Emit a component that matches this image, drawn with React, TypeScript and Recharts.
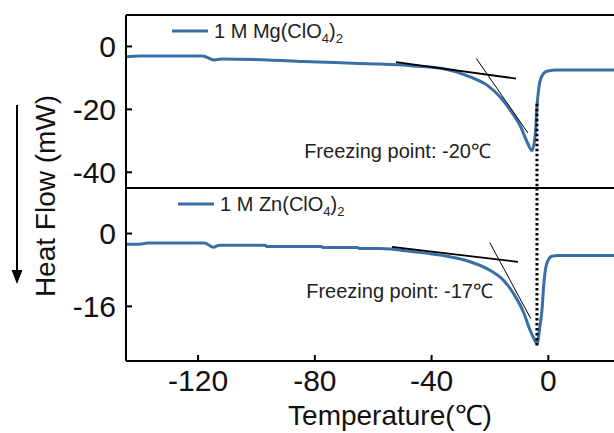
import React from "react";
import { LineChart, Line, XAxis, YAxis, ReferenceLine, ReferenceDot, Legend } from "recharts";

const FONT = '"Liberation Sans", Arial, sans-serif';
const BLUE = "#3b6ea5";
const INK = "#111";

// DSC cooling traces: temperature (°C) vs heat flow (mW)
const mgTemp = [-144.7, -140, -118.5, -114.5, -112, -96, -84, -73, -65, -57.6, -46.2, -34.7, -26.8, -21, -16.5, -13, -9.6, -7.3, -5.6, -4.5, -3.9, -3.3, -2.2, -0.5, 2.9, 22.5];
const mgFlow = [-3.3, -3.0, -3.0, -4.3, -4.0, -4.3, -4.8, -5.1, -5.4, -5.6, -6.2, -7.3, -9.7, -12.3, -16.1, -20.3, -25.3, -30.3, -33.1, -28.2, -19.2, -13.5, -9.4, -7.9, -7.5, -7.5];

const znTemp = [-144.7, -140, -137.2, -117.8, -114.7, -112.7, -97, -96.5, -77.8, -77.2, -65.3, -64.7, -57.6, -46.2, -34.7, -26.8, -19.9, -15.3, -11.9, -8.5, -6.2, -5, -3.9, -2.8, -2.2, -1.6, -0.5, 1.2, 3.5, 22.5];
const znFlow = [-2.33, -2.33, -2.1, -2.1, -3.0, -2.56, -2.6, -2.85, -2.85, -3.07, -3.07, -3.3, -3.3, -4.0, -5.0, -6.2, -8.1, -10.3, -13.2, -17.3, -21.3, -23.0, -24.2, -20.0, -17.0, -11.5, -6.5, -5.0, -4.8, -4.8];

const xTicks = [-120, -80, -40, 0];
const mgTicks = [0, -20, -40];
const znTicks = [0, -16];
const X_DOMAIN = [-144.7, 22.5];

// onset tangents [t1, v1, t2, v2]
const mgBaseTangent = [-52.2, -5.0, -11.1, -10.2];
const mgSlopeTangent = [-24.7, -3.8, -7.0, -27.5];
const znBaseTangent = [-53.6, -2.93, -10.4, -6.23];
const znSlopeTangent = [-20.1, -1.96, -6.0, -18.7];

const peakTemp = -3.9;
const mgMarkerTop = -18.2;
const znMarkerBottom = -25;

const mgData = mgTemp.map((t, i) => ({ t, v: mgFlow[i] }));
const znData = znTemp.map((t, i) => ({ t, v: znFlow[i] }));

const seg = (s: number[]) => [{ x: s[0], y: s[1] }, { x: s[2], y: s[3] }];

const axisLine = { stroke: "#000", strokeWidth: 2 };
const tickLine = { stroke: "#000", strokeWidth: 2 };
const tickStyle = { fill: INK, fontSize: 30, fontFamily: FONT };

function SaltLegend({ metal }: { metal: string }) {
  return (
    <div style={{ display: "flex", alignItems: "center", fontFamily: FONT, fontSize: 20, color: "#222", lineHeight: "20px", whiteSpace: "nowrap" }}>
      <svg width={36} height={4} style={{ display: "block" }}>
        <line x1={0} y1={2} x2={36} y2={2} stroke={BLUE} strokeWidth={3} />
      </svg>
      <span style={{ marginLeft: 6 }}>
        1 M {metal}(ClO<sub style={{ fontSize: 13, lineHeight: 0 }}>4</sub>)<sub style={{ fontSize: 13, lineHeight: 0 }}>2</sub>
      </span>
    </div>
  );
}

function XLabel(props: any) {
  const vb = props.viewBox;
  return (
    <text x={vb.x + vb.width / 2 + 20} y={vb.y + vb.height - 8} textAnchor="middle" fill={INK} fontSize={28} fontFamily={FONT}>
      Temperature(℃)
    </text>
  );
}

const noteLabel = (value: string) => ({ value, position: "right" as const, offset: 0, fill: "#222", fontSize: 20, fontFamily: FONT });

export default function App() {
  return (
    <div style={{ position: "absolute", left: 0, top: 0, width: 614, height: 433, background: "#fff", overflow: "hidden" }}>
      <div style={{ position: "absolute", left: 0, top: 0 }}>
        <LineChart width={614} height={198} data={mgData} margin={{ top: 15, right: 0, bottom: 10, left: 0 }}>
          <XAxis type="number" dataKey="t" domain={X_DOMAIN} allowDataOverflow hide />
          <YAxis type="number" domain={[-45, 10]} ticks={mgTicks} interval={0} width={126} allowDataOverflow
            axisLine={axisLine} tickLine={tickLine} tickSize={-6} tickMargin={16} tick={tickStyle} />
          <ReferenceLine y={10} stroke="#000" strokeWidth={2} />
          <Line type="monotone" dataKey="v" stroke={BLUE} strokeWidth={3} dot={false} isAnimationActive={false} />
          <ReferenceLine segment={seg(mgBaseTangent)} stroke="#000" strokeWidth={1.8} ifOverflow="visible" />
          <ReferenceLine segment={seg(mgSlopeTangent)} stroke="#000" strokeWidth={1} ifOverflow="visible" />
          <ReferenceLine segment={[{ x: peakTemp, y: mgMarkerTop }, { x: peakTemp, y: -45 }]} stroke="#000" strokeWidth={3} strokeDasharray="2.5 2.5" ifOverflow="visible" />
          <ReferenceDot x={-84} y={-33.1} r={1} fill="none" stroke="none" label={noteLabel("Freezing point: -20℃")} />
          <Legend layout="horizontal" verticalAlign="middle" align="center" wrapperStyle={{ left: 172, top: 21, width: "auto" }} content={() => <SaltLegend metal="Mg" />} />
        </LineChart>
      </div>
      <div style={{ position: "absolute", left: 0, top: 178 }}>
        <LineChart width={614} height={255} data={znData} margin={{ top: 10, right: 0, bottom: 0, left: 0 }}>
          <XAxis type="number" dataKey="t" domain={X_DOMAIN} allowDataOverflow ticks={xTicks} interval={0} height={72}
            axisLine={axisLine} tickLine={tickLine} tickSize={-6} tickMargin={15} tick={tickStyle} label={<XLabel />} />
          <YAxis type="number" domain={[-28, 10]} ticks={znTicks} interval={0} width={126} allowDataOverflow
            axisLine={axisLine} tickLine={tickLine} tickSize={-6} tickMargin={16} tick={tickStyle} />
          <ReferenceLine y={10} stroke="#000" strokeWidth={2} />
          <Line type="monotone" dataKey="v" stroke={BLUE} strokeWidth={3} dot={false} isAnimationActive={false} />
          <ReferenceLine segment={seg(znBaseTangent)} stroke="#000" strokeWidth={1.8} ifOverflow="visible" />
          <ReferenceLine segment={seg(znSlopeTangent)} stroke="#000" strokeWidth={1} ifOverflow="visible" />
          <ReferenceLine segment={[{ x: peakTemp, y: 10 }, { x: peakTemp, y: znMarkerBottom }]} stroke="#000" strokeWidth={3} strokeDasharray="2.5 2.5" ifOverflow="visible" />
          <ReferenceDot x={-83.3} y={-12.6} r={1} fill="none" stroke="none" label={noteLabel("Freezing point: -17℃")} />
          <Legend layout="horizontal" verticalAlign="middle" align="center" wrapperStyle={{ left: 178, top: 16, width: "auto" }} content={() => <SaltLegend metal="Zn" />} />
        </LineChart>
      </div>
      <svg width={614} height={433} style={{ position: "absolute", left: 0, top: 0, pointerEvents: "none" }}>
        <line x1={17} y1={105} x2={17} y2={272} stroke="#000" strokeWidth={2} />
        <polygon points="11.5,270 22.5,270 17,284" fill="#000" />
        <text x={45} y={196} transform="rotate(-90 45 196)" textAnchor="middle" dominantBaseline="central" fill={INK} fontSize={28} fontFamily={FONT}>
          Heat Flow (mW)
        </text>
      </svg>
    </div>
  );
}
